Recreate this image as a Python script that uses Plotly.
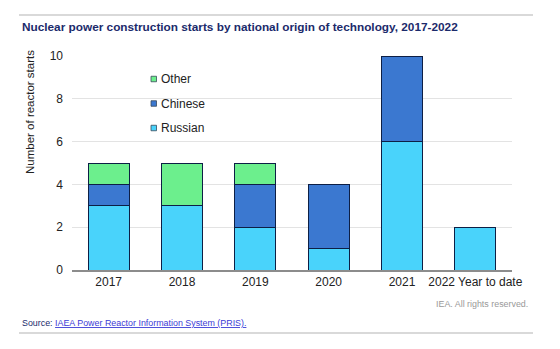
import plotly.graph_objects as go

years = ["2017", "2018", "2019", "2020", "2021", "2022 Year to date"]
russian = [3, 3, 2, 1, 6, 2]
chinese = [1, 0, 2, 3, 4, 0]
other = [1, 2, 1, 0, 0, 0]

series = [
    ("Russian", russian, "#49d3fb"),
    ("Chinese", chinese, "#3b78d0"),
    ("Other", other, "#6cef8d"),
]

W, H = 560, 349
L, R, T, B = 72, 48, 56, 79
pw, ph = W - L - R, H - T - B
EDGE = "#0d1f45"


def px(x):
    return (x - L) / pw


def py(y):
    return (H - B - y) / ph


fig = go.Figure()
for name, vals, color in series:
    fig.add_trace(go.Bar(
        x=years, y=vals, name=name, showlegend=False,
        marker=dict(color=color, line=dict(color=EDGE, width=1)),
    ))

# hand-placed legend: small squares with labels, top entry first
shapes = [
    dict(type="line", xref="paper", yref="paper", x0=px(19), x1=px(533),
         y0=py(15), y1=py(15), line=dict(color="#cccccc", width=1.5)),
    dict(type="line", xref="paper", yref="paper", x0=px(19), x1=px(533),
         y0=py(333), y1=py(333), line=dict(color="#cccccc", width=1.5)),
]
annotations = []
legend_rows = {"Other": 79, "Chinese": 103.5, "Russian": 128}
for name, _, color in series:
    yc = legend_rows[name]
    shapes.append(dict(type="rect", xref="paper", yref="paper",
                       x0=px(151), x1=px(156.5), y0=py(yc - 2.75), y1=py(yc + 2.75),
                       fillcolor=color, line=dict(color="#3a4a5a", width=0.8)))
    annotations.append(dict(text=name, xref="paper", yref="paper",
                            x=px(158.5), y=py(yc), xanchor="left", yanchor="middle",
                            showarrow=False, font=dict(size=12, color="#222222")))

annotations += [
    dict(text="<b>Nuclear power construction starts by national origin of technology, 2017-2022</b>",
         xref="paper", yref="paper", x=px(20), y=py(26.5), xanchor="left", yanchor="middle",
         showarrow=False, font=dict(size=11.8, color="#1b2a6b")),
    dict(text="Number of reactor starts", xref="paper", yref="paper",
         x=px(30.5), y=py(112.5), xanchor="center", yanchor="middle", textangle=-90,
         showarrow=False, font=dict(size=11.5, color="#222222")),
    dict(text="IEA. All rights reserved.", xref="paper", yref="paper",
         x=px(530), y=py(304), xanchor="right", yanchor="middle",
         showarrow=False, font=dict(size=8.9, color="#999999")),
    dict(text="Source: <a href='https://pris.iaea.org/' style='color:#3b3bd6;text-decoration:underline'>"
              "IAEA Power Reactor Information System (PRIS).</a>",
         xref="paper", yref="paper", x=px(20), y=py(323), xanchor="left", yanchor="middle",
         showarrow=False, font=dict(size=8.9, color="#1b2a6b")),
]

fig.update_layout(
    width=W, height=H,
    margin=dict(l=L, r=R, t=T, b=B),
    barmode="stack", bargap=0.44,
    plot_bgcolor="white", paper_bgcolor="white",
    font=dict(family="Liberation Sans, Arial, sans-serif", color="#222222", size=12),
    xaxis=dict(showline=True, linecolor="#8c8c8c", linewidth=1.5, ticks="",
               tickfont=dict(size=12), fixedrange=True),
    yaxis=dict(range=[0, 10], dtick=2, gridcolor="#e3e3e3", gridwidth=1,
               zeroline=False, showline=False, ticks="", ticklabelstandoff=8,
               tickfont=dict(size=12)),
    showlegend=False,
    shapes=shapes,
    annotations=annotations,
)

fig.write_html("out.html")
